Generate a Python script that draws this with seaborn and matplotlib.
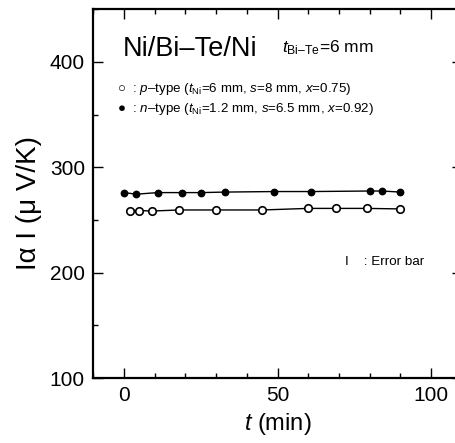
import matplotlib
matplotlib.use("Agg")
import matplotlib.pyplot as plt
import seaborn as sns
import pandas as pd
from matplotlib.ticker import MultipleLocator

# Data
t_n = [0, 4, 11, 19, 25, 33, 49, 61, 80, 84, 90]
v_n = [276, 274.5, 276, 276, 276, 276.5, 277, 277, 277.5, 277.5, 276.5]
t_p = [2, 5, 9, 18, 30, 45, 60, 69, 79, 90]
v_p = [259, 259, 258.5, 259.5, 259.5, 259.5, 261, 261, 261, 260.5]

sns.set_theme(style="ticks")
plt.rcParams['font.family'] = ['Liberation Sans', 'DejaVu Sans']
plt.rcParams['mathtext.fontset'] = 'custom'
plt.rcParams['mathtext.rm'] = 'Liberation Sans'
plt.rcParams['mathtext.it'] = 'Liberation Sans:italic'
plt.rcParams['text.color'] = 'black'
plt.rcParams['axes.labelcolor'] = 'black'
plt.rcParams['xtick.color'] = 'black'
plt.rcParams['ytick.color'] = 'black'

fig = plt.figure(figsize=(4.56, 4.43), dpi=100)
ax = fig.add_axes([93.3 / 456, 65 / 443, 368.4 / 456, 368.7 / 443])

df_n = pd.DataFrame({"t": t_n, "v": v_n})
df_p = pd.DataFrame({"t": t_p, "v": v_p})

sns.lineplot(data=df_n, x="t", y="v", ax=ax, color="black", lw=1.0,
             marker="o", markersize=4.6, markerfacecolor="black",
             markeredgecolor="black", markeredgewidth=1.0)
sns.lineplot(data=df_p, x="t", y="v", ax=ax, color="black", lw=1.0,
             marker="o", markersize=5.4, markerfacecolor="white",
             markeredgecolor="black", markeredgewidth=1.2)

ax.set_xlim(-10, 110)
ax.set_ylim(100, 450)
ax.xaxis.set_major_locator(MultipleLocator(50))
ax.xaxis.set_minor_locator(MultipleLocator(10))
ax.yaxis.set_major_locator(MultipleLocator(100))
ax.yaxis.set_minor_locator(MultipleLocator(50))
ax.set_yticks([100, 200, 300, 400])
ax.tick_params(which="both", direction="in", top=True, right=True,
               labelsize=15, colors="black", pad=6)
ax.tick_params(which="major", length=7, width=1.0)
ax.tick_params(which="minor", length=3.5, width=1.0)
for s in ax.spines.values():
    s.set_linewidth(1.6)
    s.set_color("black")

ax.set_xlabel("$t$ (min)", fontsize=17, labelpad=4)
ax.set_ylabel("Iα I (μ V/K)", fontsize=20)
ax.yaxis.set_label_coords(-51 / 368.4, 0.475)

ax.text(29 / 368.4, 1 - 47 / 368.7, "Ni/Bi–Te/Ni", transform=ax.transAxes,
        fontsize=19.5, va="baseline", ha="left")
ax.text(189 / 368.4, 1 - 43 / 368.7, "$t_{\\rm Bi–Te}$=6 mm", transform=ax.transAxes,
        fontsize=12.5, va="baseline", ha="left")
ax.text(24 / 368.4, 1 - 80 / 368.7,
        "○  : $p$–type ($t_{\\rm Ni}$=6 mm, $s$=8 mm, $x$=0.75)",
        transform=ax.transAxes, fontsize=9.6, va="center", ha="left")
ax.text(24 / 368.4, 1 - 100 / 368.7,
        "●  : $n$–type ($t_{\\rm Ni}$=1.2 mm, $s$=6.5 mm, $x$=0.92)",
        transform=ax.transAxes, fontsize=9.6, va="center", ha="left")
ax.text(252 / 368.4, 1 - 253 / 368.7, "I    : Error bar",
        transform=ax.transAxes, fontsize=9.6, va="center", ha="left")

fig.savefig("out.png", dpi=100)
